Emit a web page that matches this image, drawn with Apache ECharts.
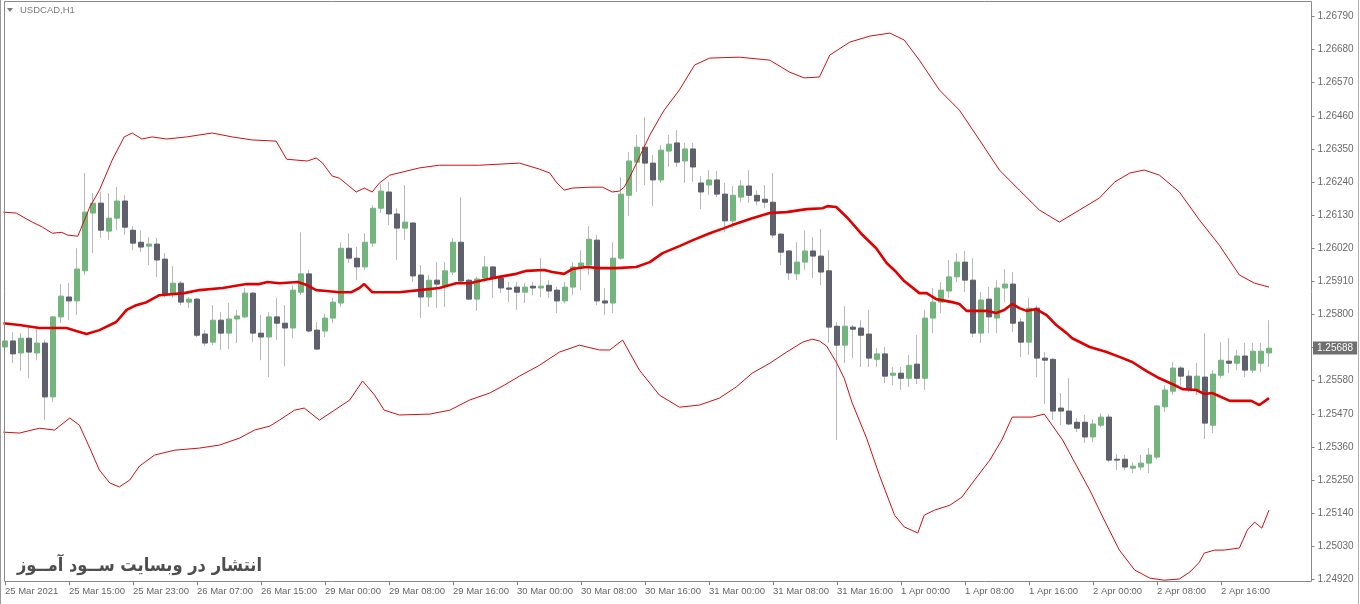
<!DOCTYPE html>
<html>
<head>
<meta charset="utf-8">
<title>USDCAD,H1</title>
<script src="https://cdn.jsdelivr.net/npm/echarts@6/dist/echarts.min.js"></script>
<style>
html,body{margin:0;padding:0;background:#fff}
#chart{width:1360px;height:604px}
</style>
</head>
<body>
<div id="chart"></div>
<script>
const symbolName = 'USDCAD,H1'
const watermark = 'انتشار در وبسایت ســود آمــوز'
const lastPrice = 1.25688
const slots = 164 // 159 hourly bars + empty shift on the right

// one label every 8 bars, first one on bar 0
const xTickLabels = ['25 Mar 2021','25 Mar 15:00','25 Mar 23:00','26 Mar 07:00','26 Mar 15:00','29 Mar 00:00','29 Mar 08:00','29 Mar 16:00','30 Mar 00:00','30 Mar 08:00','30 Mar 16:00','31 Mar 00:00','31 Mar 08:00','31 Mar 16:00','1 Apr 00:00','1 Apr 08:00','1 Apr 16:00','2 Apr 00:00','2 Apr 08:00','2 Apr 16:00']

const open = [1.25692,1.25712,1.25672,1.25721,1.25672,1.25705,1.25526,1.25792,1.25858,1.25845,
1.25945,1.26137,1.26170,1.26077,1.26120,1.26177,1.26080,1.26040,1.26027,1.26034,
1.25984,1.25871,1.25904,1.25841,1.25851,1.25735,1.25708,1.25781,1.25738,1.25785,
1.25792,1.25871,1.25738,1.25725,1.25792,1.25771,1.25755,1.25874,1.25935,1.25748,
1.25745,1.25788,1.25838,1.26020,1.25987,1.25958,1.26037,1.26153,1.26207,1.26134,
1.26087,1.26104,1.25931,1.25858,1.25914,1.25894,1.25941,1.26040,1.25914,1.25851,
1.25921,1.25958,1.25921,1.25888,1.25891,1.25874,1.25894,1.25888,1.25897,1.25881,
1.25845,1.25891,1.25958,1.25964,1.26047,1.25845,1.25838,1.25987,1.26196,1.26306,
1.26356,1.26303,1.26247,1.26343,1.26370,1.26310,1.26350,1.26237,1.26230,1.26247,
1.26200,1.26111,1.26190,1.26227,1.26196,1.26183,1.26173,1.26067,1.26011,1.25935,
1.25974,1.26011,1.25994,1.25945,1.25761,1.25698,1.25758,1.25755,1.25735,1.25651,
1.25669,1.25598,1.25605,1.25588,1.25635,1.25588,1.25788,1.25841,1.25878,1.25925,
1.25974,1.25914,1.25738,1.25851,1.25788,1.25888,1.25901,1.25775,1.25708,1.25821,
1.25655,1.25651,1.25489,1.25479,1.25442,1.25442,1.25393,1.25432,1.25459,1.25319,
1.25319,1.25289,1.25293,1.25306,1.25326,1.25493,1.25545,1.25622,1.25595,1.25549,
1.25592,1.25432,1.25598,1.25645,1.25638,1.25662,1.25615,1.25638,1.25672]

const high = [1.25748,1.25741,1.25738,1.25758,1.25755,1.25715,1.25795,1.25901,1.25904,1.26020,
1.26270,1.26203,1.26207,1.26203,1.26223,1.26196,1.26094,1.26080,1.26057,1.26054,
1.26004,1.25961,1.25911,1.25858,1.25855,1.25748,1.25831,1.25808,1.25838,1.25815,
1.25888,1.25874,1.25798,1.25808,1.25855,1.25831,1.25897,1.26073,1.25948,1.25775,
1.25802,1.25855,1.26040,1.26070,1.26024,1.26070,1.26163,1.26233,1.26240,1.26153,
1.26230,1.26107,1.25964,1.25931,1.25974,1.25974,1.26054,1.26190,1.25918,1.25925,
1.25994,1.25961,1.25931,1.25908,1.25908,1.25904,1.25908,1.25987,1.25914,1.25891,
1.25908,1.25974,1.26014,1.26094,1.26064,1.25888,1.26040,1.26257,1.26340,1.26396,
1.26456,1.26330,1.26363,1.26396,1.26413,1.26370,1.26370,1.26260,1.26280,1.26277,
1.26237,1.26227,1.26247,1.26280,1.26213,1.26230,1.26270,1.26070,1.26014,1.26040,
1.26080,1.26057,1.26084,1.26014,1.25775,1.25828,1.25765,1.25781,1.25815,1.25688,
1.25692,1.25625,1.25625,1.25665,1.25731,1.25815,1.25888,1.25908,1.25981,1.26004,
1.26011,1.25987,1.25874,1.25891,1.25914,1.25951,1.25941,1.25788,1.25855,1.25831,
1.25675,1.25655,1.25539,1.25588,1.25456,1.25466,1.25452,1.25472,1.25469,1.25336,
1.25333,1.25309,1.25333,1.25356,1.25499,1.25565,1.25642,1.25628,1.25615,1.25638,
1.25738,1.25615,1.25708,1.25721,1.25682,1.25705,1.25705,1.25705,1.25781]

const low = [1.25631,1.25638,1.25612,1.25588,1.25648,1.25449,1.25509,1.25771,1.25781,1.25798,
1.25931,1.26004,1.26054,1.26047,1.26080,1.26064,1.26014,1.26007,1.25964,1.25925,
1.25858,1.25855,1.25831,1.25821,1.25725,1.25695,1.25698,1.25682,1.25685,1.25705,
1.25788,1.25708,1.25648,1.25592,1.25715,1.25628,1.25721,1.25864,1.25741,1.25682,
1.25725,1.25771,1.25825,1.25971,1.25914,1.25948,1.26024,1.26137,1.26097,1.25981,
1.26047,1.25908,1.25788,1.25825,1.25821,1.25825,1.25931,1.25908,1.25848,1.25812,
1.25908,1.25855,1.25871,1.25841,1.25815,1.25838,1.25864,1.25858,1.25855,1.25805,
1.25838,1.25864,1.25881,1.25931,1.25831,1.25798,1.25805,1.25981,1.26127,1.26207,
1.26230,1.26160,1.26237,1.26290,1.26290,1.26237,1.26240,1.26150,1.26196,1.26190,
1.26073,1.26090,1.26173,1.26170,1.26163,1.26153,1.26054,1.25964,1.25914,1.25914,
1.25948,1.25921,1.25897,1.25705,1.25383,1.25638,1.25655,1.25625,1.25625,1.25625,
1.25572,1.25565,1.25549,1.25559,1.25569,1.25549,1.25738,1.25805,1.25855,1.25908,
1.25874,1.25725,1.25705,1.25738,1.25738,1.25841,1.25741,1.25659,1.25665,1.25592,
1.25503,1.25449,1.25432,1.25432,1.25409,1.25373,1.25376,1.25426,1.25309,1.25283,
1.25283,1.25273,1.25283,1.25273,1.25319,1.25476,1.25532,1.25565,1.25542,1.25532,
1.25386,1.25406,1.25588,1.25605,1.25615,1.25592,1.25605,1.25608,1.25625]

const close = [1.25712,1.25669,1.25721,1.25675,1.25705,1.25526,1.25792,1.25861,1.25845,1.25951,
1.26140,1.26170,1.26080,1.26120,1.26177,1.26090,1.26037,1.26024,1.26034,1.25981,
1.25868,1.25904,1.25841,1.25851,1.25731,1.25705,1.25781,1.25738,1.25785,1.25795,
1.25871,1.25738,1.25725,1.25792,1.25771,1.25755,1.25881,1.25935,1.25745,1.25685,
1.25788,1.25841,1.26020,1.25987,1.25958,1.26040,1.26153,1.26210,1.26134,1.26087,
1.26107,1.25928,1.25858,1.25914,1.25901,1.25945,1.26040,1.25911,1.25851,1.25918,
1.25958,1.25921,1.25888,1.25884,1.25874,1.25891,1.25888,1.25894,1.25878,1.25845,
1.25891,1.25958,1.25971,1.26050,1.25845,1.25838,1.25987,1.26200,1.26310,1.26356,
1.26303,1.26247,1.26346,1.26366,1.26306,1.26350,1.26290,1.26207,1.26247,1.26200,
1.26111,1.26196,1.26227,1.26196,1.26177,1.26173,1.26064,1.26007,1.25938,1.25974,
1.26011,1.25994,1.25941,1.25758,1.25698,1.25761,1.25751,1.25731,1.25655,1.25669,
1.25595,1.25605,1.25588,1.25631,1.25588,1.25788,1.25841,1.25881,1.25925,1.25974,
1.25914,1.25738,1.25848,1.25792,1.25888,1.25901,1.25771,1.25708,1.25821,1.25655,
1.25648,1.25479,1.25479,1.25436,1.25422,1.25393,1.25436,1.25459,1.25316,1.25316,
1.25293,1.25296,1.25306,1.25333,1.25496,1.25549,1.25622,1.25595,1.25552,1.25595,
1.25439,1.25602,1.25648,1.25638,1.25662,1.25615,1.25678,1.25678,1.25688]

// bollinger bands: [bar position, price]
const upperBand = [[-0.2,1.26140],[1.4,1.26137],[3.4,1.26107],[4.7,1.26090],[5.9,1.26070],[7.1,1.26073],[7.8,1.26064],[9.1,1.26060],[10.6,1.26157],[11.8,1.26213],[13.4,1.26313],[14.9,1.26390],[15.9,1.26403],[17.1,1.26383],[18.4,1.26390],[20.2,1.26383],[22.7,1.26390],[25.9,1.26403],[28.4,1.26390],[30.9,1.26380],[33.9,1.26376],[35.2,1.26316],[36.4,1.26313],[37.8,1.26310],[38.9,1.26320],[39.7,1.26303],[40.9,1.26260],[41.8,1.26253],[43.9,1.26207],[44.9,1.26220],[45.9,1.26207],[46.8,1.26237],[48.1,1.26263],[51.8,1.26287],[54.3,1.26296],[59.3,1.26296],[64.3,1.26303],[66.8,1.26283],[68.1,1.26270],[68.9,1.26240],[69.9,1.26213],[70.9,1.26220],[73.1,1.26223],[74.7,1.26223],[75.9,1.26207],[76.8,1.26210],[77.4,1.26223],[78.1,1.26257],[79.3,1.26323],[80.6,1.26396],[81.8,1.26452],[82.4,1.26479],[84.3,1.26546],[86.2,1.26629],[88.1,1.26652],[91.8,1.26655],[95.6,1.26645],[98.1,1.26605],[99.9,1.26586],[101.8,1.26589],[103.1,1.26662],[105.6,1.26705],[108.1,1.26725],[110.6,1.26735],[112.4,1.26712],[114.3,1.26645],[116.8,1.26546],[119.3,1.26479],[121.8,1.26380],[124.3,1.26280],[126.8,1.26213],[129.3,1.26147],[131.8,1.26107],[134.3,1.26147],[136.8,1.26187],[138.7,1.26240],[140.6,1.26270],[142.4,1.26280],[144.3,1.26263],[146.8,1.26207],[149.3,1.26114],[151.8,1.26030],[154.3,1.25931],[156.2,1.25904],[158,1.25891]]

const middleBand = [[-0.2,1.25771],[1.8,1.25765],[4.3,1.25755],[7.7,1.25755],[8.9,1.25745],[10.2,1.25735],[11.8,1.25748],[13.9,1.25775],[15.2,1.25815],[16.4,1.25831],[17.7,1.25841],[19.3,1.25864],[22.4,1.25871],[24.3,1.25881],[27.2,1.25888],[30.2,1.25901],[31.8,1.25901],[32.8,1.25908],[34.3,1.25904],[36.6,1.25908],[37.8,1.25897],[38.9,1.25881],[40.2,1.25878],[41.8,1.25874],[43.3,1.25874],[44.3,1.25888],[44.9,1.25901],[45.9,1.25874],[49.3,1.25874],[51.8,1.25881],[54.3,1.25888],[56.4,1.25904],[58.1,1.25904],[59.7,1.25914],[61.8,1.25925],[63.9,1.25935],[65.2,1.25945],[67.4,1.25948],[68.4,1.25941],[69.9,1.25935],[70.9,1.25951],[72.7,1.25958],[74.3,1.25954],[76.4,1.25954],[78.9,1.25958],[80.6,1.25974],[82.2,1.26004],[84.3,1.26027],[86,1.26047],[88.1,1.26070],[89.9,1.26087],[90.9,1.26097],[93.4,1.26120],[95.6,1.26137],[97.7,1.26140],[100.2,1.26150],[102.2,1.26153],[102.8,1.26160],[103.9,1.26157],[105.2,1.26124],[107.2,1.26064],[108.9,1.26020],[110.2,1.25971],[111.4,1.25941],[112.4,1.25911],[114.3,1.25871],[115.2,1.25871],[116.4,1.25851],[118.4,1.25841],[119.3,1.25835],[120.2,1.25812],[122.7,1.25812],[123.9,1.25805],[124.9,1.25815],[125.9,1.25835],[126.8,1.25821],[127.7,1.25812],[128.9,1.25818],[130.2,1.25798],[131.4,1.25765],[132.7,1.25738],[133.4,1.25721],[134.9,1.25701],[135.6,1.25692],[137.7,1.25675],[139.3,1.25659],[140.9,1.25642],[142.7,1.25612],[144.3,1.25588],[145.9,1.25569],[147.2,1.25552],[148.9,1.25549],[149.9,1.25536],[150.9,1.25539],[153.1,1.25513],[155.8,1.25513],[156.8,1.25499],[158,1.25522]]

const lowerBand = [[-0.2,1.25409],[1.8,1.25406],[4.3,1.25422],[6.2,1.25416],[8.1,1.25456],[9.3,1.25432],[10.6,1.25356],[11.8,1.25283],[13.1,1.25240],[14.3,1.25227],[15.6,1.25250],[16.8,1.25296],[18.7,1.25333],[21.2,1.25349],[24.3,1.25356],[26.8,1.25366],[29.3,1.25389],[31.2,1.25416],[33.1,1.25429],[34.3,1.25449],[36.2,1.25482],[37.4,1.25489],[39.3,1.25449],[41.2,1.25482],[43.1,1.25516],[44.7,1.25579],[46.2,1.25532],[47.4,1.25482],[49.3,1.25466],[53.1,1.25469],[55.6,1.25482],[58.1,1.25516],[60.6,1.25539],[62.4,1.25565],[64.3,1.25595],[66.8,1.25631],[69.3,1.25675],[71.8,1.25698],[74.3,1.25682],[75.6,1.25682],[77.2,1.25715],[79.3,1.25615],[81.8,1.25532],[84.3,1.25492],[86.8,1.25499],[89.3,1.25522],[91.4,1.25559],[93.4,1.25605],[95.6,1.25638],[97.7,1.25675],[99.7,1.25708],[100.9,1.25718],[101.8,1.25712],[102.7,1.25695],[103.9,1.25642],[104.9,1.25588],[105.9,1.25506],[107.7,1.25389],[109.3,1.25266],[111.2,1.25133],[112.4,1.25094],[114.1,1.25074],[114.9,1.25133],[116.2,1.25150],[118.1,1.25166],[119.6,1.25193],[121.2,1.25250],[123.1,1.25316],[124.6,1.25383],[125.9,1.25459],[128.4,1.25459],[129.9,1.25469],[130.9,1.25432],[132.2,1.25383],[133.7,1.25309],[135.6,1.25216],[137.4,1.25117],[139.3,1.25017],[141.2,1.24951],[143.1,1.24924],[144.9,1.24917],[146.8,1.24921],[148.1,1.24944],[149.3,1.24977],[149.9,1.25007],[151.2,1.25017],[152.4,1.25017],[154.3,1.25024],[155.3,1.25084],[156.2,1.25110],[157.1,1.25090],[158,1.25150]]

const cats = []
for (let i = 0; i < slots; i++) cats.push(String(i))

// body only, wicks are drawn separately in light grey
const bodies = open.map((o, i) => [o, close[i], Math.min(o, close[i]), Math.max(o, close[i])])
const wicks = open.map((o, i) => [i, low[i], high[i]])

const tickAt = i => i % 8 === 0 && i / 8 < xTickLabels.length
const font = 'Liberation Sans'

// squeeze the watermark to the width it has in the original
const wmFont = 'bold 18px "DejaVu Sans"'
const ctx = document.createElement('canvas').getContext('2d')
ctx.font = wmFont
const wmScale = Math.min(1, 245 / ctx.measureText(watermark).width)

const chart = echarts.init(document.getElementById('chart'))

chart.setOption({
  animation: false,
  backgroundColor: '#fff',
  grid: {left: 1, top: 3, width: slots * 8, bottom: 24.7, containLabel: false, outerBoundsMode: 'none'},
  xAxis: [{
    type: 'category', data: cats, boundaryGap: true, offset: 2,
    axisLine: {show: false, onZero: false},
    axisTick: {show: true, alignWithLabel: true, length: 4, interval: tickAt, lineStyle: {color: '#808080'}},
    axisLabel: {interval: tickAt, align: 'left', margin: 5, color: '#666', fontSize: 9.5, fontFamily: font,
      formatter: (v, i) => xTickLabels[i / 8]},
    splitLine: {show: false}
  }, {
    type: 'value', min: -0.5, max: slots - 0.5, show: false,
    axisLine: {onZero: false}
  }],
  yAxis: {
    type: 'value', position: 'right', min: 1.2492, max: 1.26835, interval: 0.0011, offset: -1.5,
    axisLine: {show: false, onZero: false},
    axisTick: {show: true, length: 3, lineStyle: {color: '#808080'}},
    splitLine: {show: false},
    // the tick label under the current price box is not shown
    axisLabel: {showMaxLabel: false, margin: 6, color: '#6a6a6a', fontSize: 10, fontFamily: font,
      formatter: v => Math.abs(v - lastPrice) < 0.0003 ? '' : v.toFixed(5)}
  },
  series: [{
    type: 'custom', name: 'wick', data: wicks, z: 1, silent: true,
    encode: {x: 0, y: [1, 2]},
    renderItem: (params, api) => {
      const a = api.coord([api.value(0), api.value(1)])
      const b = api.coord([api.value(0), api.value(2)])
      const x = Math.round(a[0]) - 0.5
      return {type: 'line', shape: {x1: x, y1: a[1], x2: x, y2: b[1]}, style: {stroke: '#b8b8b8', lineWidth: 1}}
    }
  }, {
    type: 'candlestick', name: symbolName, data: bodies, z: 2, barWidth: 5, silent: true,
    itemStyle: {color: '#74b57e', color0: '#5e606b', borderColor: '#74b57e', borderColor0: '#5e606b', borderWidth: 1},
    emphasis: {disabled: true}
  }, {
    type: 'line', name: 'upper', xAxisIndex: 1, data: upperBand, showSymbol: false, symbol: 'none', clip: false, z: 3, silent: true,
    lineStyle: {color: '#d01010', width: 1}
  }, {
    type: 'line', name: 'middle', xAxisIndex: 1, data: middleBand, showSymbol: false, symbol: 'none', clip: false, z: 4, silent: true,
    lineStyle: {color: '#e00000', width: 2.6}
  }, {
    type: 'line', name: 'lower', xAxisIndex: 1, data: lowerBand, showSymbol: false, symbol: 'none', clip: false, z: 3, silent: true,
    lineStyle: {color: '#d01010', width: 1}
  }],
  graphic: [
    {id: 'frame', type: 'rect', silent: true, z: 10, shape: {x: 4.5, y: 1.5, width: 1307, height: 580}, style: {fill: 'none', stroke: '#8a8a8a', lineWidth: 1}},
    {id: 'edgeL', type: 'line', silent: true, z: 10, shape: {x1: 0.5, y1: 0, x2: 0.5, y2: 604}, style: {stroke: '#9a9a9a', lineWidth: 1}},
    {id: 'edgeR', type: 'line', silent: true, z: 10, shape: {x1: 1358.5, y1: 0, x2: 1358.5, y2: 604}, style: {stroke: '#b0b0b0', lineWidth: 1}},
    {id: 'arrow', type: 'polygon', silent: true, z: 10, shape: {points: [[7, 8], [13, 8], [10, 12]]}, style: {fill: '#7a7a7a'}},
    {id: 'title', type: 'text', silent: true, z: 10, style: {x: 20, y: 10, text: symbolName, fill: '#7a7a7a', fontSize: 9.5, fontFamily: font, verticalAlign: 'middle'}},
    {id: 'wm', type: 'text', silent: true, z: 10, x: 262, y: 566, scaleX: wmScale,
      style: {x: 0, y: 0, text: watermark, fill: '#4e4e4e', font: wmFont, align: 'right', verticalAlign: 'middle'}}
  ]
})

// current price box, placed with the price scale
const py = chart.convertToPixel({yAxisIndex: 0}, lastPrice)
chart.setOption({
  graphic: [{id: 'price', type: 'text', silent: true, z: 20, x: 1313, y: Math.round(py),
    style: {x: 0, y: 0, text: lastPrice.toFixed(5), fill: '#fff', backgroundColor: '#6f6f6f', padding: [2, 4, 1, 4],
      fontSize: 10, fontFamily: font, verticalAlign: 'middle'}}]
})
</script>
</body>
</html>
